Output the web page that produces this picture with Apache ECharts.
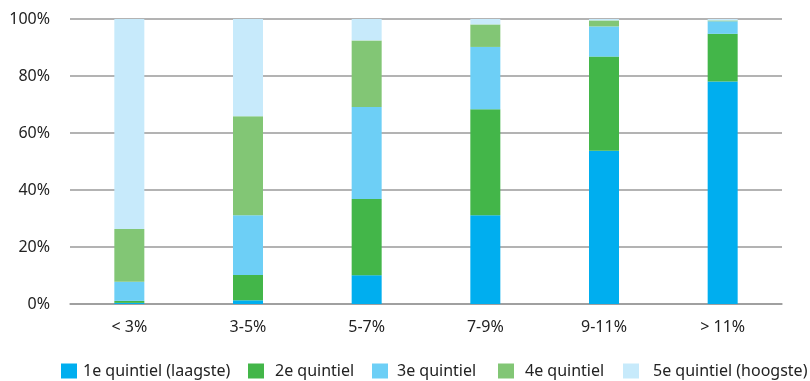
<!DOCTYPE html>
<html>
<head>
<meta charset="utf-8">
<script src="https://cdn.jsdelivr.net/npm/echarts@6/dist/echarts.min.js"></script>
<style>
  html, body { margin: 0; padding: 0; background: #fff; }
  #chart { width: 810px; height: 381px; }
</style>
</head>
<body>
<div id="chart"></div>
<script>
// Income-ratio classes on the x axis
const categories = ['< 3%', '3-5%', '5-7%', '7-9%', '9-11%', '> 11%'];

// Share (%) of each income quintile per class
const q1 = [0.4, 1.3, 10.1, 31.1, 53.8, 78.1];
const q2 = [0.7, 8.9, 26.7, 37.2, 33.0, 16.7];
const q3 = [6.7, 20.9, 32.3, 21.9, 10.6, 4.4];
const q4 = [18.5, 34.8, 23.4, 7.9, 2.1, 0.3];
const q5 = [73.7, 34.1, 7.5, 1.9, 0.5, 0.5];

const seriesNames = ['1e quintiel (laagste)', '2e quintiel', '3e quintiel', '4e quintiel', '5e quintiel (hoogste)'];
const seriesData = [q1, q2, q3, q4, q5];
const colors = ['#00AEEF', '#43B649', '#6DCFF6', '#82C675', '#C7EAFB'];

const yTicks = [0, 20, 40, 60, 80, 100];

const FONT = '"Noto Sans", "Open Sans", sans-serif';
const TEXT = '#222';

const chart = echarts.init(document.getElementById('chart'), null, { renderer: 'canvas' });

// one legend block per quintiel so each sits at its own spot along the bottom
const legendLeft = [61, 248, 372, 498, 623];
const legendTextPad = [1, 6, 4, 6, 9];
const legends = seriesNames.map((name, i) => ({
  data: [name],
  left: legendLeft[i],
  top: 363,
  orient: 'horizontal',
  itemWidth: 16,
  itemHeight: 15,
  itemGap: 0,
  padding: 0,
  icon: 'rect',
  selectedMode: false,
  textStyle: { fontFamily: FONT, fontSize: 16, color: TEXT, padding: [0, 0, 0, legendTextPad[i]] }
}));

chart.setOption({
  animation: false,
  color: colors,
  grid: { left: 70, right: 28, top: 19, bottom: 77, containLabel: false },
  legend: legends,
  xAxis: {
    type: 'category',
    data: categories,
    axisLine: { show: true, lineStyle: { color: '#9a9a9a', width: 1.5 } },
    axisTick: { show: false },
    axisLabel: { fontFamily: FONT, fontSize: 16, color: TEXT, margin: 15 }
  },
  yAxis: {
    type: 'value',
    min: yTicks[0],
    max: yTicks[yTicks.length - 1],
    interval: 20,
    axisLine: { show: false },
    axisTick: { show: false },
    axisLabel: { fontFamily: FONT, fontSize: 16, color: TEXT, margin: 20, formatter: '{value}%' },
    splitLine: { lineStyle: { color: '#9a9a9a', width: 1.5 } }
  },
  series: seriesData.map((d, i) => ({
    name: seriesNames[i],
    type: 'bar',
    stack: 'total',
    barWidth: 30,
    data: d,
    itemStyle: { color: colors[i] }
  }))
});
</script>
</body>
</html>
